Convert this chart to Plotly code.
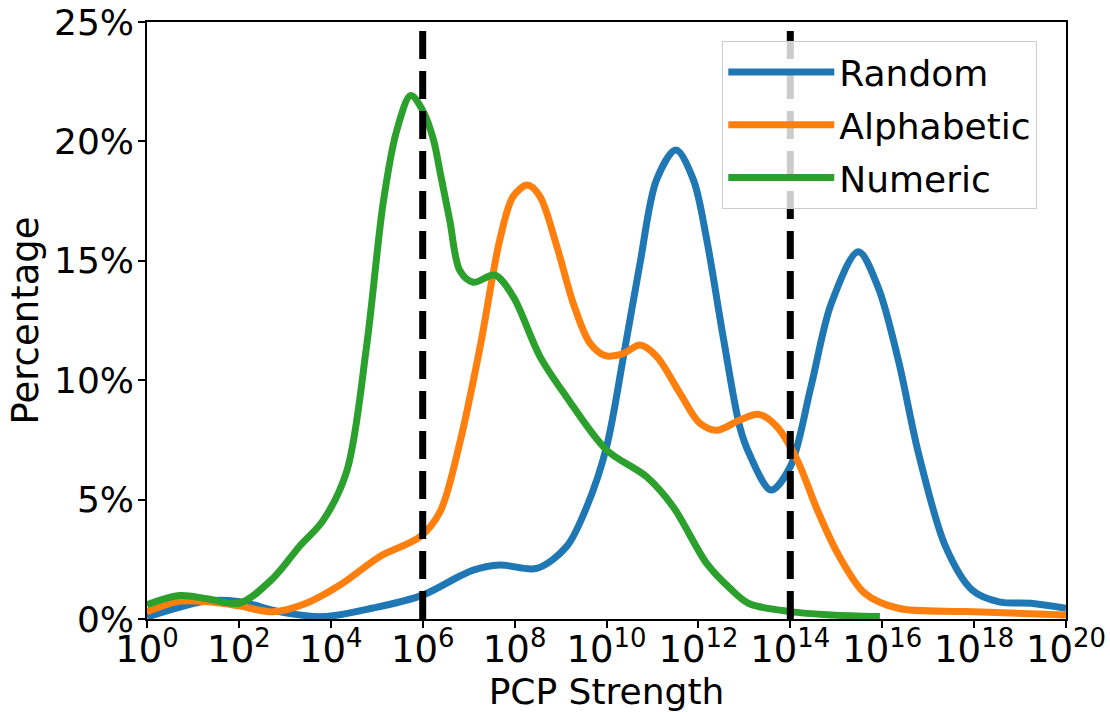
import numpy as np
import plotly.graph_objects as go

# ---- data (x as log10 exponents of PCP strength, y in percent) ----
random_exp = [0, 1.3, 2.02, 2.9, 3.83, 4.92, 6.0, 6.81, 7.1, 7.68, 8.48, 9.13, 9.57, 10.0, 10.37,
              10.73, 11.09, 11.51, 11.89, 12.18, 12.54, 12.9, 13.1, 13.58, 14.0, 14.45, 14.89,
              15.48, 15.91, 16.35, 16.79, 17.38, 17.96, 18.54, 19.28, 20]
random_pct = [0.08, 0.75, 0.72, 0.3, 0.1, 0.46, 1.0, 1.8, 2.05, 2.26, 2.12, 3.03, 4.7, 7.2, 11.0,
              14.9, 18.4, 19.64, 18.4, 15.9, 11.8, 8.05, 6.95, 5.4, 6.38, 9.73, 13.2,
              15.38, 13.9, 10.85, 6.94, 3.03, 1.21, 0.72, 0.65, 0.45]

alpha_exp = [0, 0.72, 1.44, 2.0, 2.75, 3.48, 4.2, 5.07, 5.94, 6.38, 6.81, 7.25, 7.68, 7.97, 8.28,
             8.55, 8.92, 9.28, 9.64, 9.97, 10.35, 10.73, 11.09, 11.6, 12.03, 12.4, 12.9, 13.31,
             13.71, 14.15, 14.59, 15.03, 15.62, 16.35, 17.82, 20]
alpha_pct = [0.3, 0.75, 0.7, 0.55, 0.3, 0.67, 1.42, 2.62, 3.44, 4.5, 7.4, 11.4, 15.9, 17.7, 18.17,
             17.7, 15.6, 13.2, 11.55, 11.03, 11.1, 11.47, 11.0, 9.45, 8.2, 7.9, 8.33, 8.57,
             8.05, 6.66, 4.56, 2.75, 1.08, 0.45, 0.31, 0.17]

numeric_exp = [0, 0.72, 1.3, 2.02, 2.75, 3.33, 3.83, 4.35, 4.78, 5.14, 5.43, 5.74, 6.0, 6.23, 6.38,
               6.59, 6.81, 7.1, 7.57, 7.97, 8.55, 9.13, 10.0, 10.87, 11.45, 12.18, 12.69, 13.1,
               14.0, 14.89, 15.95]
numeric_pct = [0.6, 0.98, 0.85, 0.67, 1.72, 3.07, 4.12, 6.21, 11.44, 17.43, 20.42, 21.92, 21.3, 20.1, 18.7,
               16.68, 14.58, 14.1, 14.4, 13.5, 11.0, 9.3, 7.08, 5.96, 4.7, 2.33, 1.28, 0.65,
               0.31, 0.17, 0.1]

threshold_exp = [6, 14]

x_tick_exp = list(range(0, 21, 2))
y_ticks = [0, 5, 10, 15, 20, 25]

series = [
    ("Random", random_exp, random_pct, "#1f77b4"),
    ("Alphabetic", alpha_exp, alpha_pct, "#ff7f0e"),
    ("Numeric", numeric_exp, numeric_pct, "#2ca02c"),
]

FONT = "DejaVu Sans"
TITLE = 36
fig = go.Figure()
for name, ex, pc, col in series:
    fig.add_trace(go.Scatter(
        x=np.power(10.0, ex), y=pc, name=name, mode="lines", legendgroup=name,
        line=dict(color=col, width=7, shape="spline", smoothing=0.9),
    ))

for t in threshold_exp:
    fig.add_shape(type="line", xref="x", yref="paper", x0=10.0 ** t, x1=10.0 ** t, y0=0, y1=1,
                  line=dict(color="black", width=7, dash="28px,12px"), layer="above")

fig.update_layout(
    width=1110, height=712,
    margin=dict(l=147, r=44, t=22, b=93),
    paper_bgcolor="white", plot_bgcolor="white",
    font=dict(family=FONT, size=TITLE, color="black"),
    showlegend=True,
    legend=dict(x=0.626, y=0.968, xanchor="left", yanchor="top",
                bgcolor="rgba(255,255,255,0.8)", bordercolor="#cccccc", borderwidth=1,
                itemwidth=106, traceorder="grouped", tracegroupgap=3,
                font=dict(family=FONT, size=TITLE, color="black")),
)
fig.update_xaxes(
    type="log", range=[0, 20], automargin=False,
    tickvals=[10.0 ** e for e in x_tick_exp],
    ticktext=[f"10<sup>{e}</sup>" for e in x_tick_exp],
    ticks="outside", ticklen=7, tickwidth=1.5, tickcolor="black",
    ticklabelstandoff=-10,
    showline=True, linecolor="black", linewidth=1.5, mirror=True,
    showgrid=False, zeroline=False,
    title=dict(text="PCP Strength", font=dict(family=FONT, size=TITLE), standoff=4),
    tickfont=dict(family=FONT, size=37),
)
fig.update_yaxes(
    range=[0, 25], automargin=False,
    tickvals=y_ticks, ticktext=[f"{v}%" for v in y_ticks],
    ticks="outside", ticklen=7, tickwidth=1.5, tickcolor="black",
    ticklabelstandoff=-3,
    showline=True, linecolor="black", linewidth=1.5, mirror=True,
    showgrid=False, zeroline=False,
    title=dict(text="Percentage", font=dict(family=FONT, size=TITLE + 1), standoff=4),
    tickfont=dict(family=FONT, size=36),
)

fig.write_html("out.html")
